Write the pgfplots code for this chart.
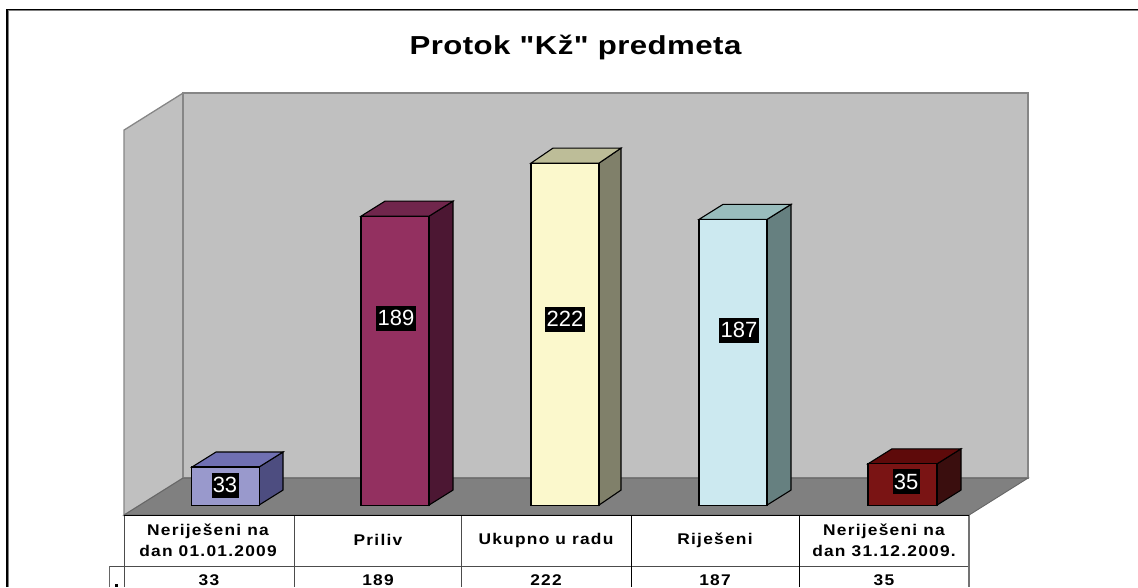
\documentclass[border=0pt]{standalone}
\usepackage{fontspec}
\setmainfont{Liberation Sans}
\newfontfamily\tablefont[LetterSpace=8,FakeStretch=1.12]{Liberation Sans Bold}
\newfontfamily\titlefont[LetterSpace=1.7,FakeStretch=1.2]{Liberation Sans Bold}
\usepackage{pgfplots}
\pgfplotsset{compat=1.18}

\definecolor{wall}{HTML}{C0C0C0}
\definecolor{wallline}{HTML}{868686}
\definecolor{floorc}{HTML}{808080}
\definecolor{floorline}{HTML}{666666}
\definecolor{aF}{HTML}{9999CC}\definecolor{aT}{HTML}{7070B2}\definecolor{aS}{HTML}{4D4D80}
\definecolor{bF}{HTML}{933060}\definecolor{bT}{HTML}{70264C}\definecolor{bS}{HTML}{4C1733}
\definecolor{cF}{HTML}{FBF8CC}\definecolor{cT}{HTML}{BDBD98}\definecolor{cS}{HTML}{80806A}
\definecolor{dF}{HTML}{CCE9F0}\definecolor{dT}{HTML}{99BDBD}\definecolor{dS}{HTML}{668080}
\definecolor{eF}{HTML}{7A1414}\definecolor{eT}{HTML}{5E0A0A}\definecolor{eS}{HTML}{3A0E0E}

\pgfplotsset{
  facebox/.style={draw=black, line width=1.1pt, line join=miter},
  barlabel/.style={nodes near coords, every node near coord/.append style={
      fill=black, text=white, anchor=center, inner sep=0pt, font=\fontsize{22}{22}\selectfont,
      /pgf/number format/assume math mode=true,
      minimum height=25pt, minimum width=#1}},
}

\begin{document}
\begin{tikzpicture}[x=1pt,y=1pt]
% backdrop: page in pixel units, y counted from the top
\begin{axis}[
    name=page,
    at={(0,0)}, anchor=south west,
    scale only axis, width=1138pt, height=587pt,
    xmin=0, xmax=1138, ymin=0, ymax=587, y dir=reverse,
    hide axis, clip=true,
]
\addplot[draw=gray, line width=1pt] coordinates {(8.5,587) (8.5,10.5) (1138,10.5)};
\addplot[draw=black, line width=1.5pt] coordinates {(7,587) (7,9.3) (1138,9.3)};
\addplot[fill=wall, draw=wallline, line width=1.3pt] coordinates {(124,130) (183,93) (183,478) (124,515)} -- cycle;
\addplot[fill=wall, draw=wallline, line width=1.3pt] coordinates {(183,93) (1028,93) (1028,478) (183,478)} -- cycle;
\addplot[fill=floorc, draw=floorline, line width=0.9pt] coordinates {(124,515) (183,478) (1028,478) (969,515)} -- cycle;
% data table rules
\addplot[draw=black!70, line width=1pt] coordinates {(109,566) (969,566)};
\addplot[draw=black!60, line width=1pt] coordinates {(109,566) (109,587)};
\addplot[draw=black!70, line width=1pt] coordinates {(124.5,515) (124.5,587)};
\addplot[draw=black!70, line width=1pt] coordinates {(294,515) (294,587)};
\addplot[draw=black!70, line width=1pt] coordinates {(461.5,515) (461.5,587)};
\addplot[draw=black, line width=0.9pt] coordinates {(631,515) (631,587)};
\addplot[draw=black, line width=0.9pt] coordinates {(799.5,515) (799.5,587)};
\addplot[draw=black!55, line width=1.3pt] coordinates {(969,515) (969,587)};
\addplot[draw=black, line width=1.8pt] coordinates {(124,515.5) (969,515.5)};
\addplot[fill=black, draw=none] coordinates {(114.5,584) (118,584) (118,587) (114.5,587)} -- cycle;
\node[font=\titlefont\fontsize{26}{26}\selectfont, anchor=base] at (axis cs:575.5,54) {Protok "Kž" predmeta};
\node[font=\tablefont\fontsize{15.5}{15.5}\selectfont, anchor=base] at (axis cs:209,585.5) {33};
\node[font=\tablefont\fontsize{15.5}{15.5}\selectfont, anchor=base] at (axis cs:378,585.5) {189};
\node[font=\tablefont\fontsize{15.5}{15.5}\selectfont, anchor=base] at (axis cs:546,585.5) {222};
\node[font=\tablefont\fontsize{15.5}{15.5}\selectfont, anchor=base] at (axis cs:715,585.5) {187};
\node[font=\tablefont\fontsize{15.5}{15.5}\selectfont, anchor=base] at (axis cs:884,585.5) {35};
\end{axis}

% bars: x in pixels, y in chart values; 15 px of depth is 9.33 units
\begin{axis}[
    at={(0,82pt)}, anchor=south west,
    scale only axis, width=1138pt, height=505pt,
    xmin=0, xmax=1138, ymin=9.33, ymax=323.38,
    axis line style={draw=none}, major tick length=0pt, ytick=\empty,
    xtick={208,378,546,715,884},
    xticklabels={{Neriješeni na\\dan 01.01.2009},Priliv,Ukupno u radu,Riješeni,{Neriješeni na\\dan 31.12.2009.}},
    x tick label style={align=center, anchor=center, yshift=-35pt,
       font=\tablefont\fontsize{15.5}{21}\selectfont},
    clip=false,
]
\addplot[fill=aS, facebox] coordinates {(259,9.33) (283,18.66) (283,42.33) (259,33)} -- cycle;
\addplot[fill=aT, facebox] coordinates {(192,33) (259,33) (283,42.33) (216,42.33)} -- cycle;
\addplot[ybar, bar shift=0pt, bar width=67.5, fill=aF, facebox, barlabel=27pt,
    every node near coord/.append style={yshift=-18pt, xshift=-0.5pt}] coordinates {(225.5,33)};

\addplot[fill=bS, facebox] coordinates {(429,9.33) (453,18.66) (453,198.33) (429,189)} -- cycle;
\addplot[fill=bT, facebox] coordinates {(361,189) (429,189) (453,198.33) (385,198.33)} -- cycle;
\addplot[ybar, bar shift=0pt, bar width=68, fill=bF, facebox, barlabel=40pt,
    every node near coord/.append style={yshift=-102pt, xshift=1pt}] coordinates {(395,189)};

\addplot[fill=cS, facebox] coordinates {(599,9.33) (621,18.66) (621,231.33) (599,222)} -- cycle;
\addplot[fill=cT, facebox] coordinates {(531,222) (599,222) (621,231.33) (553,231.33)} -- cycle;
\addplot[ybar, bar shift=0pt, bar width=68, fill=cF, facebox, barlabel=40pt,
    every node near coord/.append style={yshift=-156pt}] coordinates {(565,222)};

\addplot[fill=dS, facebox] coordinates {(767,9.33) (791,18.66) (791,196.33) (767,187)} -- cycle;
\addplot[fill=dT, facebox] coordinates {(699,187) (767,187) (791,196.33) (723,196.33)} -- cycle;
\addplot[ybar, bar shift=0pt, bar width=68, fill=dF, facebox, barlabel=40pt,
    every node near coord/.append style={yshift=-111pt, xshift=6pt}] coordinates {(733,187)};

\addplot[fill=eS, facebox] coordinates {(937,9.33) (961,18.66) (961,44.33) (937,35)} -- cycle;
\addplot[fill=eT, facebox] coordinates {(868,35) (937,35) (961,44.33) (892,44.33)} -- cycle;
\addplot[ybar, bar shift=0pt, bar width=69, fill=eF, facebox, barlabel=27pt,
    every node near coord/.append style={yshift=-18pt, xshift=3.5pt}] coordinates {(902.5,35)};
\end{axis}
\end{tikzpicture}
\end{document}
